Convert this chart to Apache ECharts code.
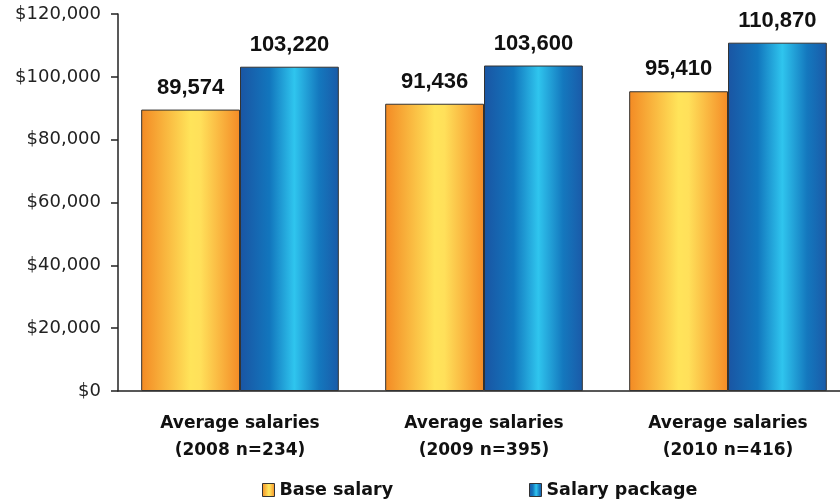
<!DOCTYPE html>
<html>
<head>
<meta charset="utf-8">
<script src="https://cdn.jsdelivr.net/npm/echarts@6/dist/echarts.min.js"></script>
<style>
  html, body { margin: 0; padding: 0; background: #fff; }
  #main { width: 840px; height: 502px; }
</style>
</head>
<body>
<div id="main"></div>
<script>
// 数据
var categories = ['Average salaries\n(2008 n=234)', 'Average salaries\n(2009 n=395)', 'Average salaries\n(2010 n=416)'];
var baseSalary = [89574, 91436, 95410];
var salaryPackage = [103220, 103600, 110870];
var seriesNames = ['Base salary', 'Salary package'];

var chart = echarts.init(document.getElementById('main'));

// 横向渐变
var orange = new echarts.graphic.LinearGradient(0, 0, 1, 0, [
  { offset: 0, color: '#f38a24' },
  { offset: 0.5, color: '#ffe45a' },
  { offset: 0.6, color: '#ffe05a' },
  { offset: 1, color: '#f48b26' }
]);
var blue = new echarts.graphic.LinearGradient(0, 0, 1, 0, [
  { offset: 0, color: '#1a55a3' },
  { offset: 0.3, color: '#1276bd' },
  { offset: 0.55, color: '#2fc5ee' },
  { offset: 0.8, color: '#1478be' },
  { offset: 1, color: '#1a5aa8' }
]);

function fmt(v) {
  return String(v).replace(/\B(?=(\d{3})+(?!\d))/g, ',');
}

var labelStyle = {
  show: true,
  position: 'top',
  distance: 11,
  fontFamily: 'Liberation Sans',
  fontWeight: 'bold',
  fontSize: 22,
  color: '#111',
  formatter: function(p) { return fmt(p.value); }
};

var legendText = {
  fontFamily: 'DejaVu Sans',
  fontWeight: 'bold',
  fontSize: 17.5,
  color: '#111'
};

var option = {
  backgroundColor: '#ffffff',
  animation: false,
  grid: { left: 118, top: 14, bottom: 111, width: 732, outerBoundsMode: 'none' },
  legend: [{
    data: [seriesNames[0]],
    icon: 'rect',
    left: 262, top: 481, padding: 0,
    itemWidth: 12, itemHeight: 13, itemGap: 8,
    textStyle: legendText,
    itemStyle: { borderColor: '#333', borderWidth: 1 }
  }, {
    data: [seriesNames[1]],
    icon: 'rect',
    left: 529, top: 481, padding: 0,
    itemWidth: 12, itemHeight: 13, itemGap: 8,
    textStyle: legendText,
    itemStyle: { borderColor: '#333', borderWidth: 1 }
  }],
  xAxis: {
    type: 'category',
    data: categories,
    axisLine: { lineStyle: { color: '#222', width: 1.5 } },
    axisTick: { length: 7, lineStyle: { color: '#222', width: 1.5 } },
    axisLabel: {
      margin: 19,
      fontFamily: 'DejaVu Sans',
      fontWeight: 'bold',
      fontSize: 17,
      lineHeight: 27,
      color: '#111'
    }
  },
  yAxis: {
    type: 'value',
    min: 0,
    max: 120000,
    interval: 20000,
    splitLine: { show: false },
    axisLine: { show: true, lineStyle: { color: '#222', width: 1.5 } },
    axisTick: { show: true, length: 7, lineStyle: { color: '#222', width: 1.5 } },
    axisLabel: {
      margin: 17,
      fontFamily: 'DejaVu Sans',
      fontSize: 18,
      color: '#222',
      formatter: function(v) { return '$' + fmt(v); }
    }
  },
  series: [{
    name: seriesNames[0],
    type: 'bar',
    data: baseSalary,
    barGap: '0%',
    barCategoryGap: '19%',
    itemStyle: { color: orange, borderColor: '#333', borderWidth: 1 },
    label: labelStyle
  }, {
    name: seriesNames[1],
    type: 'bar',
    data: salaryPackage,
    itemStyle: { color: blue, borderColor: '#333', borderWidth: 1 },
    label: labelStyle
  }]
};

chart.setOption(option);
</script>
</body>
</html>
